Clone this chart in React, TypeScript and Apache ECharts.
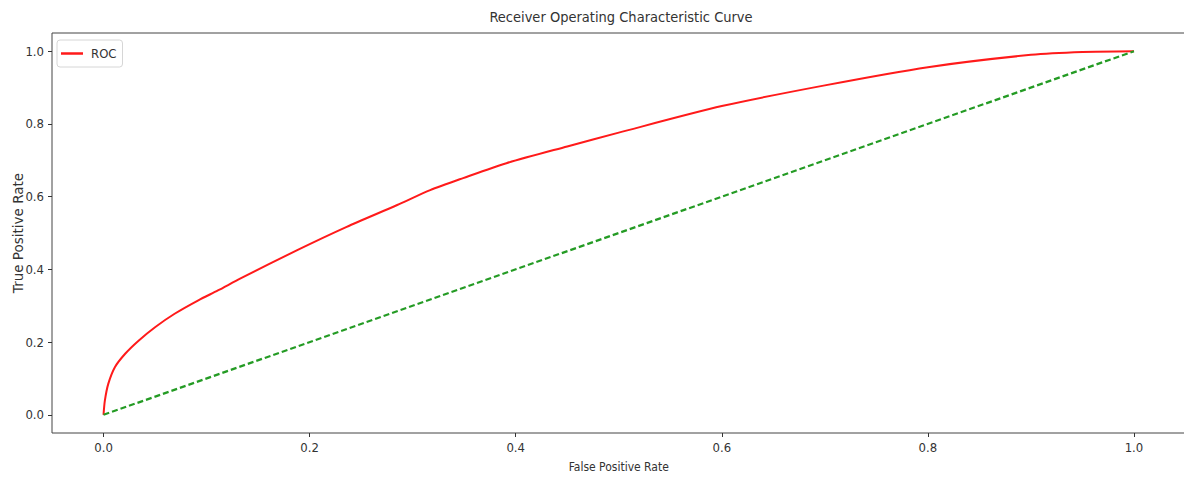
import React, { useEffect, useRef } from "react";
import * as echarts from "echarts";

const rocFpr = [0, 0.0013, 0.0046, 0.011, 0.021, 0.034, 0.05, 0.069, 0.092, 0.111, 0.133, 0.188, 0.236, 0.285, 0.317, 0.349, 0.391, 0.45, 0.5, 0.6, 0.7, 0.8, 0.9, 0.95, 1.0];
const rocTpr = [0, 0.039, 0.085, 0.131, 0.168, 0.204, 0.241, 0.278, 0.315, 0.342, 0.375, 0.453, 0.517, 0.577, 0.618, 0.651, 0.692, 0.738, 0.776, 0.849, 0.906, 0.956, 0.99, 0.998, 1.0];
const diagX = [0, 1];
const diagY = [0, 1];
const tickValues = [0, 0.2, 0.4, 0.6, 0.8, 1.0];
const titleText = "Receiver Operating Characteristic Curve";
const xName = "False Positive Rate";
const yName = "True Positive Rate";
const seriesName = "ROC";

const FONT = "'DejaVu Sans Condensed', 'Liberation Sans Narrow', 'DejaVu Sans', sans-serif";
const TXT = "#333";

export default function App() {
  const ref = useRef<HTMLDivElement>(null);
  useEffect(() => {
    document.body.style.margin = "0";
    const chart = echarts.init(ref.current!, undefined, { renderer: "svg" });
    const axisCommon = {
      type: "value" as const,
      min: -0.05,
      max: 1.05,
      splitLine: { show: false },
      axisLine: { show: false, onZero: false },
      axisTick: { show: true, inside: false, length: 4, customValues: tickValues, lineStyle: { color: TXT, width: 1 } },
      axisLabel: {
        customValues: tickValues,
        formatter: (v: number) => v.toFixed(1),
        color: TXT,
        fontFamily: FONT,
        fontSize: 13,
      },
      nameLocation: "middle" as const,
      nameMoveOverlap: false,
      nameTextStyle: { color: TXT, fontFamily: FONT, fontSize: 12 },
    };
    chart.setOption({
      animation: false,
      backgroundColor: "#fff",
      textStyle: { fontFamily: FONT },
      grid: {
        left: 52,
        top: 33,
        right: -1.5,
        bottom: 46,
        show: true,
        borderColor: "#444",
        borderWidth: 1,
        containLabel: false,
        outerBoundsMode: "none",
      },
      graphic: [
        {
          type: "text",
          x: 621,
          y: 17,
          style: {
            text: titleText,
            fill: TXT,
            font: `14.5px ${FONT}`,
            textAlign: "center",
            textVerticalAlign: "middle",
          },
        },
      ],
      legend: {
        data: [seriesName],
        left: 57,
        top: 40,
        orient: "vertical",
        padding: [7, 6, 7, 4],
        borderColor: "#d6d6d6",
        borderWidth: 1,
        borderRadius: 3,
        backgroundColor: "#fff",
        icon: "rect",
        itemWidth: 22,
        itemHeight: 2.5,
        textStyle: { color: TXT, fontFamily: FONT, fontSize: 13, padding: [0, 0, 0, 3] },
      },
      xAxis: {
        ...axisCommon,
        name: xName,
        nameGap: 28,
        axisLabel: { ...axisCommon.axisLabel, margin: 8 },
      },
      yAxis: {
        ...axisCommon,
        name: yName,
        nameGap: 27,
        nameTextStyle: { color: TXT, fontFamily: "'DejaVu Sans', sans-serif", fontSize: 13.5 },
        axisLabel: { ...axisCommon.axisLabel, margin: 8 },
      },
      series: [
        {
          name: seriesName,
          type: "line",
          data: rocFpr.map((x, i) => [x, rocTpr[i]]),
          smooth: 0.25,
          showSymbol: false,
          lineStyle: { color: "#ff1a1a", width: 2 },
          itemStyle: { color: "#ff1a1a" },
        },
        {
          name: "diag",
          type: "line",
          data: diagX.map((x, i) => [x, diagY[i]]),
          showSymbol: false,
          lineStyle: { color: "#249b24", width: 2.2, type: [6, 3] },
          itemStyle: { color: "#249b24" },
        },
      ],
    });
    return () => chart.dispose();
  }, []);
  return <div ref={ref} style={{ width: 1184, height: 479 }} />;
}
